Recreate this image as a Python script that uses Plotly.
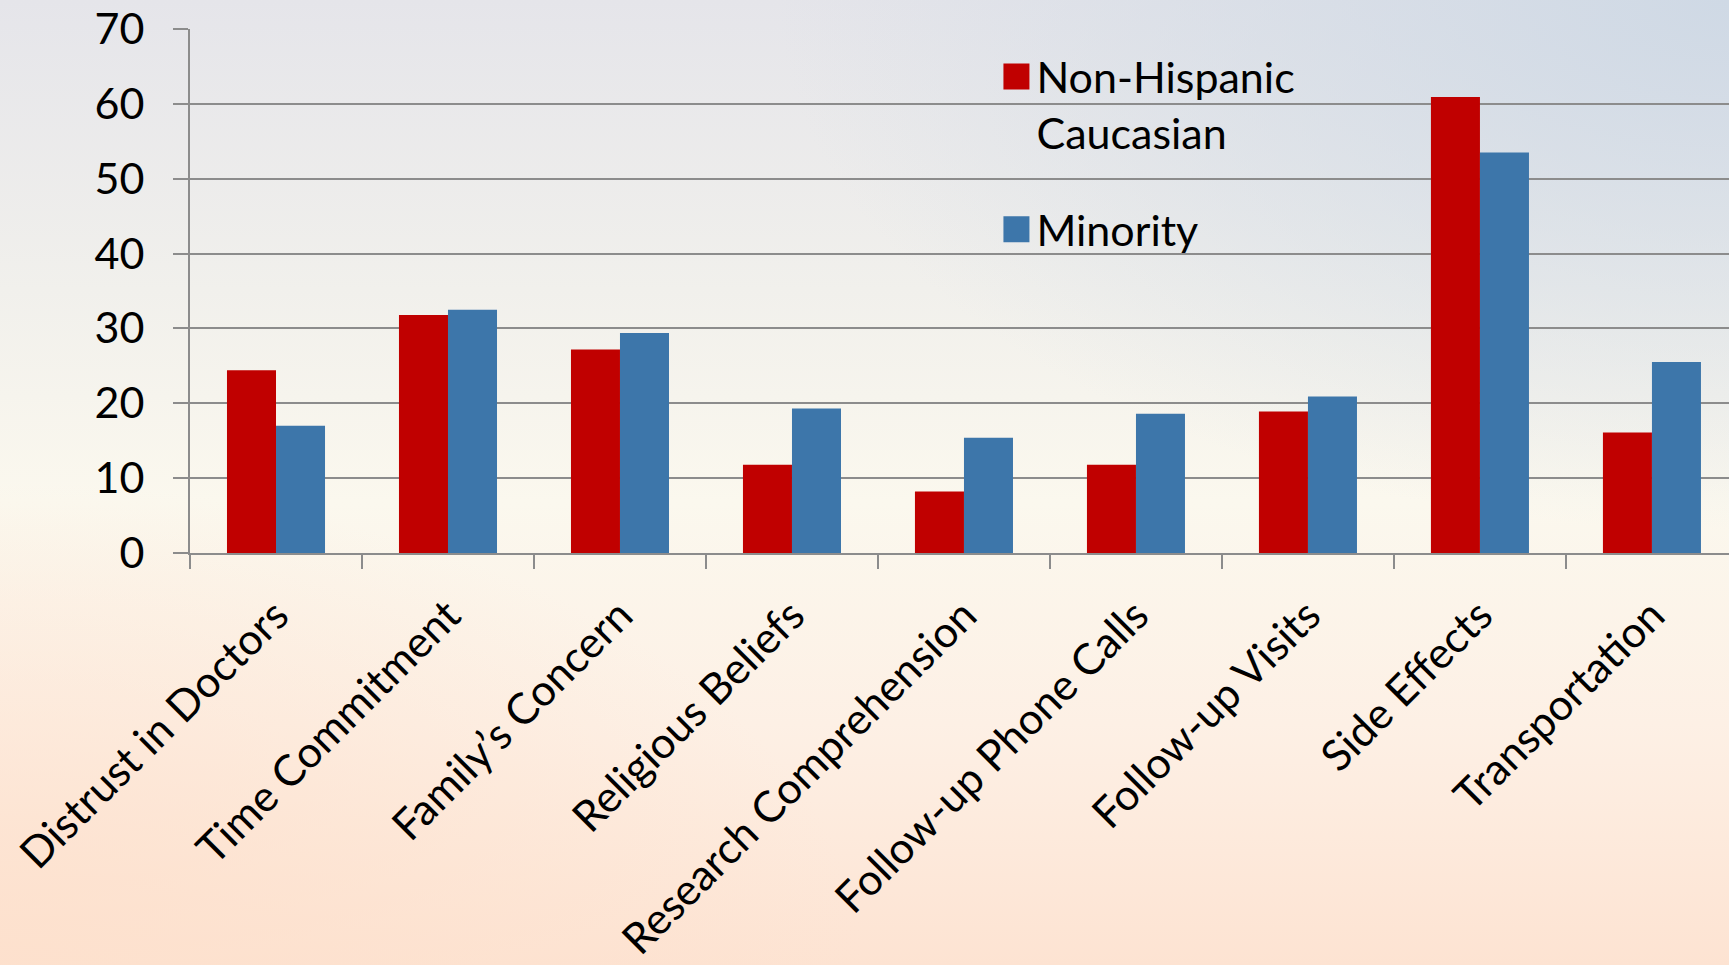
import base64
import plotly.graph_objects as go

categories = ["Distrust in Doctors", "Time Commitment", "Family\u2019s Concern",
              "Religious Beliefs", "Research Comprehension", "Follow-up Phone Calls",
              "Follow-up Visits", "Side Effects", "Transportation"]
non_hispanic = [24.4, 31.8, 27.2, 11.8, 8.2, 11.8, 18.9, 60.9, 16.1]
minority = [17.0, 32.5, 29.4, 19.3, 15.4, 18.6, 20.9, 53.5, 25.5]
series_names = ["Non-Hispanic<br>Caucasian", "Minority"]
y_ticks = [0, 10, 20, 30, 40, 50, 60, 70]

W, H = 1729, 965
ML, MR, MT, MB = 190, 0, 29, 412
PW, PH = W - ML - MR, H - MT - MB

svg = f'''<svg xmlns="http://www.w3.org/2000/svg" width="{W}" height="{H}" viewBox="0 0 {W} {H}" preserveAspectRatio="none">
<defs>
<linearGradient id="v" x1="0" y1="0" x2="0" y2="1">
<stop offset="0" stop-color="#e5e5ea"/>
<stop offset="0.30" stop-color="#f1f0ec"/>
<stop offset="0.52" stop-color="#fbf8ee"/>
<stop offset="0.75" stop-color="#fdf0e5"/>
<stop offset="1" stop-color="#fde3d2"/>
</linearGradient>
<radialGradient id="tr" cx="1" cy="0" r="0.55">
<stop offset="0" stop-color="#cfd9e5" stop-opacity="1"/>
<stop offset="1" stop-color="#cfd9e5" stop-opacity="0"/>
</radialGradient>
<radialGradient id="bl" cx="0" cy="1" r="0.5">
<stop offset="0" stop-color="#fde0cc" stop-opacity="0.8"/>
<stop offset="1" stop-color="#fde0cc" stop-opacity="0"/>
</radialGradient>
</defs>
<rect width="{W}" height="{H}" fill="url(#v)"/>
<rect width="{W}" height="{H}" fill="url(#tr)"/>
<rect width="{W}" height="{H}" fill="url(#bl)"/>
</svg>'''
bg_src = "data:image/svg+xml;base64," + base64.b64encode(svg.encode()).decode()

FONT = "Lato, 'Open Sans', sans-serif"
FS = 43
RED, BLUE, GRID = "#C00000", "#3D76AA", "#8C8C8C"

fig = go.Figure()
fig.add_trace(go.Bar(x=categories, y=non_hispanic, name=series_names[0],
                     marker=dict(color=RED, line=dict(width=0)), legendgroup="a"))
fig.add_trace(go.Bar(x=categories, y=minority, name=series_names[1],
                     marker=dict(color=BLUE, line=dict(width=0)), legendgroup="b"))

fig.update_layout(
    width=W, height=H,
    margin=dict(l=ML, r=MR, t=MT, b=MB, autoexpand=False),
    paper_bgcolor="#f8f4ee", plot_bgcolor="rgba(0,0,0,0)",
    barmode="group", bargap=0.43, bargroupgap=0,
    font=dict(family=FONT, size=FS, color="#000000"),
    showlegend=True,
    legend=dict(x=0.524, y=0.975, xanchor="left", yanchor="top",
                bgcolor="rgba(0,0,0,0)", font=dict(family=FONT, size=FS),
                tracegroupgap=38, traceorder="grouped", valign="top"),
    images=[dict(source=bg_src, xref="paper", yref="paper",
                 x=-ML / PW, y=1 + MT / PH, sizex=W / PW, sizey=H / PH,
                 xanchor="left", yanchor="top", sizing="stretch", layer="below")],
)
fig.update_xaxes(range=[-0.5, 8.448], showline=True, linecolor=GRID, linewidth=2,
                 ticks="outside", tickson="boundaries", ticklen=14, tickcolor=GRID, tickwidth=2,
                 tickangle=-45, tickfont=dict(family=FONT, size=FS), automargin=False,
                 showgrid=False, ticklabelstandoff=18)
fig.update_yaxes(range=[0, 70], tickvals=y_ticks, showgrid=True, gridcolor=GRID, gridwidth=2,
                 zeroline=False, showline=True, linecolor=GRID, linewidth=2,
                 ticks="outside", ticklen=15, tickcolor=GRID, tickwidth=2,
                 tickfont=dict(family=FONT, size=FS), automargin=False, ticklabelstandoff=20)

post = """
document.body.style.margin = '0';
var gd = document.getElementById('{plot_id}');
function bigLegend() {
  gd.querySelectorAll('.legendpoints path').forEach(function (p) {
    p.setAttribute('d', 'M13,13H-13V-13H13Z');
  });
}
bigLegend();
gd.on('plotly_afterplot', bigLegend);
"""
fig.write_html("out.html", post_script=post, config={"displayModeBar": False})
